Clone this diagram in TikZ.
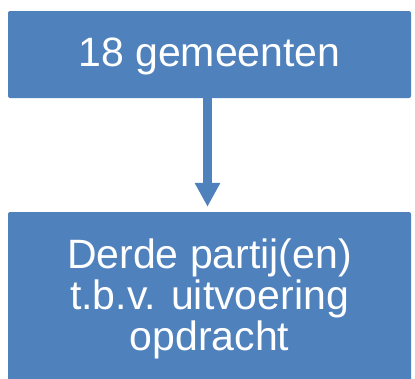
\documentclass[tikz,border=0pt]{standalone}
\usepackage{fontspec}
\setmainfont{Liberation Sans}
\usetikzlibrary{arrows.meta}
\usetikzlibrary{positioning}
\definecolor{blokblauw}{RGB}{79,129,189}
\tikzstyle{blok} = [rectangle, rounded corners=2pt, fill=blokblauw, text=white, inner sep=0pt, minimum width=403pt, align=center, font=\fontsize{41}{41}\selectfont]
\tikzstyle{pijl} = [line width=8.3pt, blokblauw, -{Triangle[length=24pt, width=24pt]}]

\begin{document}
\begin{tikzpicture}[x=1pt, y=-1pt]

    \useasboundingbox (0,0) rectangle (415,378);

    \node (gemeenten) [blok, minimum height=87pt, text height=30pt, text depth=7pt] at (209.5,54.5) {18 gemeenten};
    \node (partijen) [blok, minimum height=174pt] at (209.5,299) {Derde partij(en)\\ t.b.v. uitvoering\\ opdracht};

    \draw [pijl, shorten >=5pt] ([xshift=-2pt]gemeenten.south) -- ([xshift=-2pt]partijen.north);

\end{tikzpicture}
\end{document}
